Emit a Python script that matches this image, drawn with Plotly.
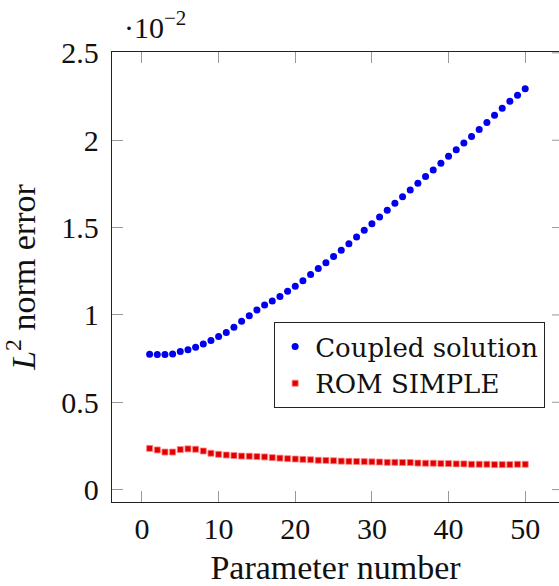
import plotly.graph_objects as go

# Parameter numbers
param = list(range(1, 51))

# L2 norm error, in units of 1e-2
coupled_e2 = [0.775, 0.773, 0.773, 0.776, 0.790, 0.801, 0.815, 0.834, 0.853, 0.876,
              0.900, 0.929, 0.963, 0.995, 1.028, 1.057, 1.080, 1.105, 1.135, 1.164,
              1.196, 1.231, 1.265, 1.299, 1.335, 1.370, 1.408, 1.446, 1.484, 1.522,
              1.560, 1.599, 1.639, 1.677, 1.715, 1.753, 1.793, 1.829, 1.868, 1.908,
              1.946, 1.984, 2.022, 2.061, 2.101, 2.143, 2.183, 2.223, 2.257, 2.295]
rom_simple_e2 = [0.236, 0.227, 0.215, 0.215, 0.229, 0.233, 0.231, 0.221, 0.208, 0.202,
                 0.198, 0.195, 0.192, 0.191, 0.189, 0.187, 0.183, 0.180, 0.177, 0.175,
                 0.173, 0.171, 0.168, 0.167, 0.165, 0.163, 0.162, 0.161, 0.160, 0.159,
                 0.158, 0.156, 0.156, 0.155, 0.155, 0.152, 0.151, 0.151, 0.149, 0.149,
                 0.147, 0.147, 0.145, 0.145, 0.145, 0.143, 0.143, 0.143, 0.145, 0.145]

x_ticks = [0, 10, 20, 30, 40, 50]
y_ticks = [0, 0.5, 1, 1.5, 2, 2.5]
y_tick_text = ["0", "0.5", "1", "1.5", "2", "2.5"]

FONT = "Liberation Serif"
LEGEND_FONT = "DejaVu Serif"

fig = go.Figure()
fig.add_trace(go.Scatter(
    x=param, y=coupled_e2, mode="markers", name="Coupled solution",
    marker=dict(symbol="circle", size=7, color="#0000ee", line=dict(width=0)),
))
fig.add_trace(go.Scatter(
    x=param, y=rom_simple_e2, mode="markers", name="ROM SIMPLE",
    marker=dict(symbol="square", size=6, color="#e00000", line=dict(width=0.8, color="#ff8080")),
))

axis_common = dict(
    showgrid=False, zeroline=False, ticks="inside", ticklen=11, tickwidth=1,
    tickcolor="#999999", showline=True, linecolor="#222222", linewidth=1.3,
    tickfont=dict(family=FONT, size=30, color="#111111"),
)

fig.update_layout(
    width=559, height=586,
    margin=dict(l=112, r=0, t=52, b=84),
    paper_bgcolor="white", plot_bgcolor="white",
    font=dict(family=FONT, color="#111111"),
    xaxis=dict(range=[-3.91, 54.41], tickvals=x_ticks, mirror="ticks",
               title=dict(text="Parameter number", font=dict(family=FONT, size=34), standoff=17),
               **axis_common),
    yaxis=dict(range=[-0.071, 2.505], tickvals=y_ticks, ticktext=y_tick_text, mirror=False,
               ticklabelstandoff=6,
               title=dict(text="<i>L</i><sup>2</sup> norm error", font=dict(family=FONT, size=34), standoff=18),
               **axis_common),
    showlegend=True,
    legend=dict(x=0.969, y=0.4, xanchor="right", yanchor="top",
                bgcolor="white", bordercolor="#222222", borderwidth=1,
                font=dict(family=LEGEND_FONT, size=26, color="#111111"),
                itemwidth=30, tracegroupgap=0),
)

# Right-side ticks (the right axis line lies beyond the visible picture)
for v in y_ticks:
    fig.add_shape(type="line", xref="paper", yref="y", x0=1 - 7 / 447, x1=1, y0=v, y1=v,
                  line=dict(color="#999999", width=1))

# Axis multiplier label
fig.add_annotation(text="·10<sup>−2</sup>", xref="paper", yref="paper", x=0.022, y=1,
                   xanchor="left", yanchor="bottom", yshift=6, showarrow=False,
                   font=dict(family=FONT, size=30, color="#111111"))

fig.write_html("out.html")
